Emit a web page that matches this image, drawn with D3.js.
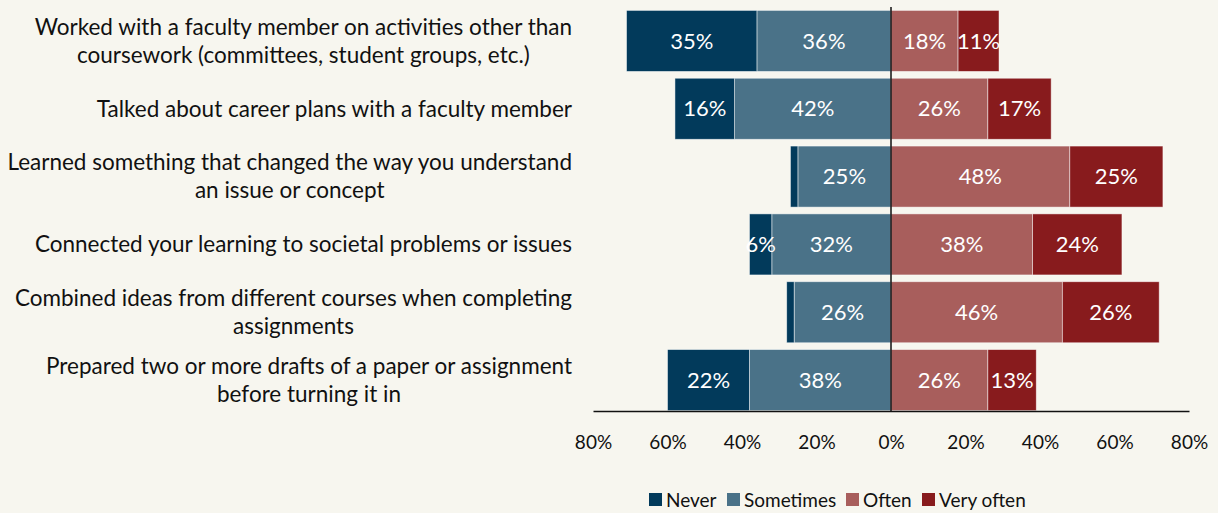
<!DOCTYPE html>
<html>
<head>
<meta charset="utf-8">
<script src="https://cdn.jsdelivr.net/npm/d3@7"></script>
<style>
  body { margin: 0; background: #f7f6ef; }
  svg { display: block; font-family: Lato, "Open Sans", sans-serif; }
</style>
</head>
<body>
<script>
// survey items, top to bottom
var items = [
  ["Worked with a faculty member on activities other than", "coursework (committees, student groups, etc.)"],
  ["Talked about career plans with a faculty member"],
  ["Learned something that changed the way you understand", "an issue or concept"],
  ["Connected your learning to societal problems or issues"],
  ["Combined ideas from different courses when completing", "assignments"],
  ["Prepared two or more drafts of a paper or assignment", "before turning it in"]
];
var never     = [35, 16, 2, 6, 2, 22];
var sometimes = [36, 42, 25, 32, 26, 38];
var often     = [18, 26, 48, 38, 46, 26];
var veryOften = [11, 17, 25, 24, 26, 13];
var keys = ["Never", "Sometimes", "Often", "Very often"];
var colors = ["#023a5b", "#4a7288", "#a85e5c", "#881b1d"];
var ticks = [-80, -60, -40, -20, 0, 20, 40, 60, 80];

var W = 1218, H = 513;
var svg = d3.select("body").append("svg").attr("width", W).attr("height", H);

var x = d3.scaleLinear().domain([-80, 80]).range([593, 1189]);
var y = d3.scaleBand().domain(d3.range(items.length)).range([7, 414])
  .paddingInner(0.1).paddingOuter(0.05);

// build segments: negatives go left from zero
var segs = [];
items.forEach(function (it, i) {
  var s = sometimes[i], n = never[i];
  segs.push({ row: i, k: 1, x0: -s, x1: 0, v: s });
  segs.push({ row: i, k: 0, x0: -s - n, x1: -s, v: n });
  segs.push({ row: i, k: 2, x0: 0, x1: often[i], v: often[i] });
  segs.push({ row: i, k: 3, x0: often[i], x1: often[i] + veryOften[i], v: veryOften[i] });
});

svg.selectAll("rect.bar").data(segs).enter().append("rect")
  .attr("class", "bar")
  .attr("x", function (d) { return x(d.x0); })
  .attr("y", function (d) { return y(d.row); })
  .attr("width", function (d) { return x(d.x1) - x(d.x0); })
  .attr("height", y.bandwidth())
  .attr("fill", function (d) { return colors[d.k]; })
  .attr("stroke", "rgba(255,255,255,0.6)")
  .attr("stroke-width", 0.8);

svg.selectAll("text.val").data(segs.filter(function (d) { return d.v >= 5; })).enter().append("text")
  .attr("class", "val")
  .attr("x", function (d) { return (x(d.x0) + x(d.x1)) / 2; })
  .attr("y", function (d) { return y(d.row) + y.bandwidth() / 2; })
  .attr("dy", "0.35em")
  .attr("text-anchor", "middle")
  .attr("fill", "#fff")
  .style("font-size", "22px")
  .text(function (d) { return d.v + "%"; });

// zero line
svg.append("line")
  .attr("x1", x(0)).attr("x2", x(0))
  .attr("y1", 7).attr("y2", 411)
  .attr("stroke", "#111").attr("stroke-width", 1.5);

// bottom axis
var xAxis = d3.axisBottom(x).tickValues(ticks).tickSize(0).tickPadding(25)
  .tickFormat(function (d) { return Math.abs(d) + "%"; });
var ax = svg.append("g").attr("transform", "translate(0,411)").call(xAxis);
ax.select(".domain").attr("stroke", "#111").attr("stroke-width", 1.5);
ax.selectAll("text").style("font-size", "19px").style("font-family", "Lato, sans-serif").attr("fill", "#111");

// item labels: block right-aligned, lines centered in block
var lab = svg.selectAll("g.lab").data(items).enter().append("g").attr("class", "lab");
lab.each(function (lines, i) {
  var g = d3.select(this);
  var cy = y(i) + y.bandwidth() / 2;
  var ts = lines.map(function (l, j) {
    return g.append("text")
      .attr("y", cy + (j - (lines.length - 1) / 2) * 28)
      .attr("dy", "0.35em")
      .attr("text-anchor", "middle")
      .attr("fill", "#111")
      .style("font-size", "22.5px")
      .text(l);
  });
  var w = d3.max(ts, function (t) { return t.node().getComputedTextLength(); });
  ts.forEach(function (t) { t.attr("x", 572 - w / 2); });
});

// legend
var lx = [649, 727, 846, 922];
var lg = svg.selectAll("g.leg").data(keys).enter().append("g").attr("class", "leg")
  .attr("transform", function (d, i) { return "translate(" + lx[i] + ",493)"; });
lg.append("rect").attr("width", 13).attr("height", 13)
  .attr("fill", function (d, i) { return colors[i]; });
lg.append("text").attr("x", 17).attr("y", 7).attr("dy", "0.35em")
  .style("font-size", "19px").attr("fill", "#111")
  .text(function (d) { return d; });
</script>
</body>
</html>
